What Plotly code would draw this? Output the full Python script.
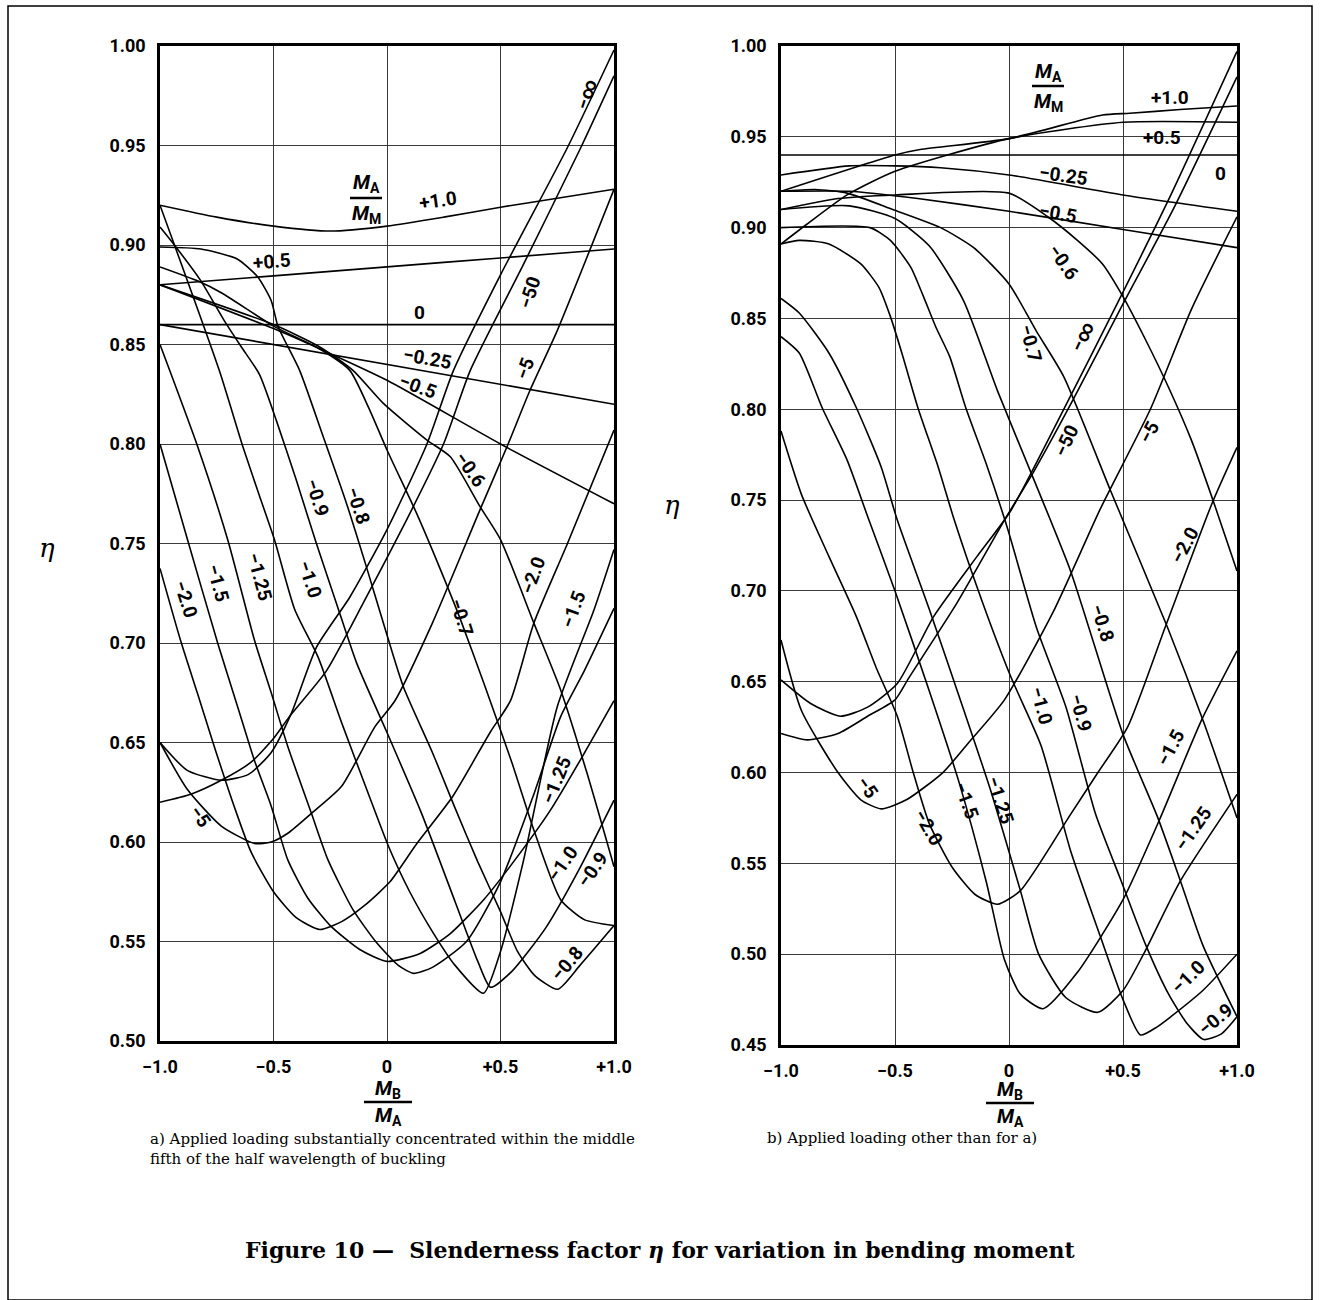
import plotly.graph_objects as go

W, H = 1320, 1300

# ---------------- panel a) : eta against M_B/M_A, one curve per M_A/M_M ----------------
A_P10_X = [-1, -0.75, -0.5, -0.25, 0, 0.25, 0.5, 0.75, 1]
A_P10_Y = [0.920, 0.914, 0.9095, 0.907, 0.9095, 0.914, 0.919, 0.9235, 0.928]
A_P05_X = [-1, -0.5, 0, 0.5, 1]
A_P05_Y = [0.880, 0.8845, 0.889, 0.8935, 0.898]
A_0_X = [-1, 1]
A_0_Y = [0.86, 0.86]
A_M025_X = [-1, 1]
A_M025_Y = [0.86, 0.82]
A_M05_X = [-1, -0.5, -0.3, 0, 0.5, 1]
A_M05_Y = [0.88, 0.858, 0.848, 0.832, 0.80, 0.77]
A_M06_X = [-1, -0.5, -0.3, -0.15, -0.016, 0.176, 0.279, 0.41, 0.5, 0.647, 0.765, 0.88, 1]
A_M06_Y = [0.88, 0.86, 0.849, 0.837, 0.8204, 0.802, 0.7936, 0.7685, 0.752, 0.71, 0.6764, 0.635, 0.5876]
A_M07_X = [-1, -0.835, -0.73, -0.496, -0.3, -0.164, -0.08, 0.0, 0.131, 0.235, 0.323, 0.426, 0.55, 0.65, 0.765, 0.869, 1]
A_M07_Y = [0.889, 0.882, 0.876, 0.859, 0.848, 0.837, 0.818, 0.797, 0.765, 0.737, 0.712, 0.680, 0.64, 0.605, 0.571, 0.561, 0.558]
A_M08_X = [-1, -0.82, -0.66, -0.57, -0.51, -0.48, -0.385, -0.282, -0.178, -0.09, -0.016, 0.072, 0.2, 0.3, 0.4, 0.5, 0.575, 0.65, 0.752, 0.85, 1]
A_M08_Y = [0.899, 0.898, 0.893, 0.884, 0.872, 0.859, 0.837, 0.804, 0.770, 0.738, 0.710, 0.678, 0.645, 0.617, 0.59, 0.565, 0.545, 0.533, 0.526, 0.538, 0.558]
A_M09_X = [-1, -0.93, -0.82, -0.717, -0.643, -0.562, -0.488, -0.4, -0.311, -0.223, -0.134, 0.0, 0.15, 0.3, 0.4, 0.456, 0.55, 0.7, 0.85, 1]
A_M09_Y = [0.909, 0.899, 0.882, 0.862, 0.849, 0.835, 0.812, 0.782, 0.750, 0.720, 0.690, 0.655, 0.615, 0.57, 0.54, 0.527, 0.535, 0.557, 0.587, 0.621]
A_M10_X = [-1, -0.739, -0.636, -0.562, -0.496, -0.407, -0.304, -0.2, -0.083, 0.006, 0.1, 0.2, 0.3, 0.425, 0.5, 0.6, 0.75, 0.913, 1]
A_M10_Y = [0.92, 0.837, 0.799, 0.774, 0.752, 0.717, 0.693, 0.66, 0.6245, 0.598, 0.575, 0.555, 0.538, 0.524, 0.545, 0.59, 0.668, 0.717, 0.747]
A_M125_X = [-1, -0.835, -0.702, -0.584, -0.51, -0.437, -0.333, -0.26, -0.15, -0.05, 0.05, 0.116, 0.2, 0.35, 0.5, 0.65, 0.765, 0.869, 1]
A_M125_Y = [0.85, 0.799, 0.752, 0.7015, 0.675, 0.648, 0.6144, 0.591, 0.566, 0.55, 0.538, 0.534, 0.537, 0.55, 0.58, 0.625, 0.663, 0.686, 0.7174]
A_M15_X = [-1, -0.879, -0.746, -0.658, -0.584, -0.51, -0.437, -0.35, -0.25, -0.12, 0, 0.146, 0.279, 0.426, 0.544, 0.72, 0.869, 1]
A_M15_Y = [0.80, 0.752, 0.70, 0.668, 0.641, 0.618, 0.591, 0.572, 0.558, 0.546, 0.540, 0.544, 0.554, 0.571, 0.588, 0.616, 0.6446, 0.671]
A_M20_X = [-1, -0.91, -0.835, -0.761, -0.673, -0.599, -0.5, -0.4, -0.296, -0.2, -0.1, 0.013, 0.13, 0.29, 0.456, 0.544, 0.647, 0.795, 1]
A_M20_Y = [0.7375, 0.7015, 0.6747, 0.648, 0.6178, 0.595, 0.575, 0.562, 0.556, 0.560, 0.568, 0.58, 0.599, 0.623, 0.6554, 0.671, 0.71, 0.75, 0.807]
A_M5_X = [-1, -0.88, -0.73, -0.584, -0.51, -0.437, -0.333, -0.2, -0.053, 0.035, 0.2, 0.41, 0.53, 0.63, 0.75, 1]
A_M5_Y = [0.650, 0.6265, 0.608, 0.5993, 0.600, 0.6044, 0.6144, 0.628, 0.658, 0.671, 0.71, 0.767, 0.799, 0.827, 0.857, 0.928]
A_M50_X = [-1, -0.864, -0.73, -0.6, -0.5, -0.43, -0.267, -0.105, 0.087, 0.249, 0.367, 0.6, 0.854, 1]
A_M50_Y = [0.620, 0.624, 0.631, 0.640, 0.652, 0.663, 0.686, 0.720, 0.762, 0.800, 0.837, 0.89, 0.949, 0.985]
A_MINF_X = [-1, -0.88, -0.73, -0.61, -0.51, -0.42, -0.31, -0.164, 0.0, 0.176, 0.293, 0.5, 0.795, 1]
A_MINF_Y = [0.650, 0.636, 0.631, 0.634, 0.645, 0.665, 0.698, 0.723, 0.757, 0.800, 0.837, 0.885, 0.949, 0.998]

# ---------------- panel b) ----------------
B_P10_X = [-1, -0.5, -0.39, 0, 0.41, 0.53, 0.75, 1]
B_P10_Y = [0.920, 0.940, 0.943, 0.949, 0.962, 0.963, 0.965, 0.967]
B_P05_X = [-1, -0.885, -0.71, -0.5, 0, 0.5, 1]
B_P05_Y = [0.891, 0.902, 0.918, 0.931, 0.949, 0.958, 0.958]
B_0_X = [-1, 1]
B_0_Y = [0.94, 0.94]
B_M025_X = [-1, -0.7, -0.5, -0.3, 0, 0.5, 1]
B_M025_Y = [0.929, 0.934, 0.934, 0.933, 0.929, 0.918, 0.909]
B_M05_X = [-1, -0.7, -0.4, 0, 0.5, 1]
B_M05_Y = [0.920, 0.920, 0.916, 0.909, 0.899, 0.889]
B_M06_X = [-1, -0.75, -0.5, 0, 0.17, 0.3, 0.41, 0.5, 0.6, 0.7, 0.8, 0.9, 1]
B_M06_Y = [0.910, 0.916, 0.918, 0.919, 0.906, 0.893, 0.880, 0.862, 0.838, 0.812, 0.783, 0.748, 0.711]
B_M07_X = [-1, -0.85, -0.71, -0.51, -0.30, -0.155, 0, 0.12, 0.24, 0.446, 0.695, 0.856, 1]
B_M07_Y = [0.920, 0.921, 0.919, 0.910, 0.900, 0.889, 0.869, 0.843, 0.818, 0.755, 0.680, 0.627, 0.575]
B_M08_X = [-1, -0.7, -0.5, -0.35, -0.2, -0.05, 0.11, 0.27, 0.5, 0.65, 0.75, 0.85, 1]
B_M08_Y = [0.910, 0.912, 0.905, 0.890, 0.860, 0.810, 0.761, 0.711, 0.621, 0.576, 0.541, 0.505, 0.4656]
B_M09_X = [-1, -0.61, -0.52, -0.43, -0.375, -0.32, -0.26, -0.19, -0.1, -0.008, 0.12, 0.25, 0.38, 0.49, 0.6, 0.7, 0.78, 0.855, 0.93, 1]
B_M09_Y = [0.900, 0.900, 0.893, 0.878, 0.862, 0.845, 0.829, 0.801, 0.770, 0.735, 0.680, 0.636, 0.577, 0.541, 0.505, 0.478, 0.462, 0.453, 0.456, 0.4656]
B_M10_X = [-1, -0.92, -0.79, -0.65, -0.57, -0.52, -0.47, -0.40, -0.31, -0.24, -0.12, 0.007, 0.14, 0.27, 0.4, 0.5, 0.577, 0.65, 0.71, 0.85, 1]
B_M10_Y = [0.891, 0.893, 0.891, 0.880, 0.867, 0.851, 0.831, 0.801, 0.768, 0.739, 0.695, 0.653, 0.615, 0.557, 0.51, 0.475, 0.4555, 0.460, 0.4656, 0.48, 0.50]
B_M125_X = [-1, -0.92, -0.79, -0.67, -0.56, -0.49, -0.35, -0.2, -0.08, 0.05, 0.13, 0.25, 0.39, 0.5, 0.59, 0.75, 1]
B_M125_Y = [0.861, 0.853, 0.831, 0.801, 0.768, 0.739, 0.690, 0.635, 0.590, 0.535, 0.500, 0.476, 0.468, 0.480, 0.500, 0.540, 0.588]
B_M15_X = [-1, -0.92, -0.82, -0.71, -0.62, -0.5, -0.35, -0.22, -0.1, -0.02, 0.05, 0.15, 0.3, 0.5, 0.66, 0.845, 1]
B_M15_Y = [0.840, 0.831, 0.801, 0.772, 0.741, 0.700, 0.645, 0.595, 0.540, 0.497, 0.478, 0.470, 0.490, 0.530, 0.574, 0.629, 0.667]
B_M20_X = [-1, -0.91, -0.79, -0.67, -0.58, -0.49, -0.42, -0.35, -0.25, -0.15, -0.05, 0.05, 0.27, 0.39, 0.52, 0.685, 0.89, 1]
B_M20_Y = [0.788, 0.753, 0.719, 0.686, 0.657, 0.631, 0.600, 0.572, 0.548, 0.533, 0.5275, 0.535, 0.577, 0.600, 0.625, 0.680, 0.748, 0.779]
B_M5_X = [-1, -0.91, -0.75, -0.65, -0.56, -0.45, -0.29, -0.18, -0.02, 0.2, 0.4, 0.62, 0.8, 1]
B_M5_Y = [0.673, 0.634, 0.600, 0.585, 0.580, 0.585, 0.600, 0.616, 0.640, 0.690, 0.745, 0.800, 0.855, 0.906]
B_M50_X = [-1, -0.885, -0.75, -0.62, -0.50, -0.44, -0.23, -0.02, 0.11, 0.28, 0.5, 0.72, 1]
B_M50_Y = [0.6215, 0.618, 0.6215, 0.631, 0.640, 0.652, 0.693, 0.739, 0.766, 0.805, 0.858, 0.910, 0.983]
B_MINF_X = [-1, -0.87, -0.74, -0.62, -0.49, -0.33, -0.14, 0.007, 0.24, 0.49, 0.71, 1]
B_MINF_Y = [0.651, 0.638, 0.631, 0.636, 0.649, 0.686, 0.719, 0.744, 0.800, 0.862, 0.918, 0.997]

# tick labels
X_TICKS = [-1, -0.5, 0, 0.5, 1]
X_TICK_TEXT = ["\u22121.0", "\u22120.5", "0", "+0.5", "+1.0"]
A_Y_TICKS = [0.50, 0.55, 0.60, 0.65, 0.70, 0.75, 0.80, 0.85, 0.90, 0.95, 1.00]
B_Y_TICKS = [0.45, 0.50, 0.55, 0.60, 0.65, 0.70, 0.75, 0.80, 0.85, 0.90, 0.95, 1.00]

# curve labels: (text, x, y, angle)
A_LABELS = [
    ("+1.0", 0.225, 0.9226, -8), ("+0.5", -0.507, 0.8915, -5), ("0", 0.145, 0.866, 0),
    ("\u22120.25", 0.18, 0.843, 10), ("\u22120.5", 0.137, 0.829, 20), ("\u22120.6", 0.366, 0.787, 55),
    ("\u22120.7", 0.33, 0.713, 72), ("\u22122.0", 0.643, 0.734, -70), ("\u22121.5", 0.82, 0.717, -70),
    ("\u22121.25", 0.745, 0.631, -68), ("\u22121.0", 0.775, 0.589, -55), ("\u22120.9", 0.907, 0.586, -55),
    ("\u22120.8", 0.793, 0.539, -50), ("\u22125", 0.608, 0.838, -70), ("\u221250", 0.63, 0.876, -72),
    ("\u2212\u221e", 0.881, 0.976, -72), ("\u22120.9", -0.308, 0.773, 72), ("\u22120.8", -0.128, 0.769, 72),
    ("\u22122.0", -0.885, 0.722, 72), ("\u22121.5", -0.744, 0.730, 75), ("\u22121.25", -0.56, 0.733, 75),
    ("\u22121.0", -0.339, 0.732, 72), ("\u22125", -0.824, 0.6126, 55),
]
B_LABELS = [
    ("+1.0", 0.708, 0.9715, 0), ("+0.5", 0.673, 0.9494, 0), ("0", 0.928, 0.930, 0),
    ("\u22120.25", 0.239, 0.9285, 8), ("\u22120.5", 0.217, 0.9076, 10), ("\u22120.6", 0.239, 0.8807, 55),
    ("\u22120.7", 0.094, 0.836, 75), ("\u2212\u221e", 0.322, 0.840, -65), ("\u221250", 0.252, 0.7828, -65),
    ("\u22125", 0.616, 0.7877, -62), ("\u22122.0", 0.77, 0.725, -62), ("\u22120.8", 0.41, 0.682, 72),
    ("\u22121.0", 0.143, 0.637, 75), ("\u22120.9", 0.314, 0.633, 75), ("\u22121.5", 0.708, 0.614, -62),
    ("\u22121.25", 0.81, 0.569, -55), ("\u22121.0", 0.783, 0.4874, -45), ("\u22120.9", 0.906, 0.4638, -40),
    ("\u22125", -0.62, 0.592, 55), ("\u22122.0", -0.353, 0.570, 60), ("\u22121.5", -0.186, 0.5848, 70),
    ("\u22121.25", -0.037, 0.5848, 72),
]

A_CURVES = [
    (A_P10_X, A_P10_Y), (A_P05_X, A_P05_Y), (A_0_X, A_0_Y), (A_M025_X, A_M025_Y),
    (A_M05_X, A_M05_Y), (A_M06_X, A_M06_Y), (A_M07_X, A_M07_Y), (A_M08_X, A_M08_Y),
    (A_M09_X, A_M09_Y), (A_M10_X, A_M10_Y), (A_M125_X, A_M125_Y), (A_M15_X, A_M15_Y),
    (A_M20_X, A_M20_Y), (A_M5_X, A_M5_Y), (A_M50_X, A_M50_Y), (A_MINF_X, A_MINF_Y),
]
B_CURVES = [
    (B_P10_X, B_P10_Y), (B_P05_X, B_P05_Y), (B_0_X, B_0_Y), (B_M025_X, B_M025_Y),
    (B_M05_X, B_M05_Y), (B_M06_X, B_M06_Y), (B_M07_X, B_M07_Y), (B_M08_X, B_M08_Y),
    (B_M09_X, B_M09_Y), (B_M10_X, B_M10_Y), (B_M125_X, B_M125_Y), (B_M15_X, B_M15_Y),
    (B_M20_X, B_M20_Y), (B_M5_X, B_M5_Y), (B_M50_X, B_M50_Y), (B_MINF_X, B_MINF_Y),
]

LABEL_FONT = "Roboto, DejaVu Sans, sans-serif"
SERIF = "DejaVu Serif, Liberation Serif, serif"

fig = go.Figure()
for cx, cy in A_CURVES:
    fig.add_trace(go.Scatter(x=cx, y=cy, mode="lines", xaxis="x", yaxis="y",
                             line=dict(color="black", width=1.6, shape="spline", smoothing=0.6),
                             hoverinfo="skip", showlegend=False))
for cx, cy in B_CURVES:
    fig.add_trace(go.Scatter(x=cx, y=cy, mode="lines", xaxis="x2", yaxis="y2",
                             line=dict(color="black", width=1.6, shape="spline", smoothing=0.6),
                             hoverinfo="skip", showlegend=False))


def px(x):
    return x / W


def py(y):
    return 1 - y / H


axis_common = dict(showline=True, linecolor="black", linewidth=2.6, mirror=True,
                   showgrid=True, gridcolor="#3a3a3a", gridwidth=1, zeroline=False,
                   ticks="", ticklabelstandoff=8, automargin=False,
                   tickfont=dict(family=LABEL_FONT, size=18, color="black", weight="bold"))

fig.update_layout(
    template="none",
    width=W, height=H, margin=dict(l=0, r=0, t=0, b=0, pad=0), autosize=False,
    paper_bgcolor="white", plot_bgcolor="white", showlegend=False,
    xaxis=dict(domain=[px(160), px(614)], range=[-1, 1], anchor="y",
               tickvals=X_TICKS, ticktext=X_TICK_TEXT, **axis_common),
    yaxis=dict(domain=[py(1041), py(46)], range=[0.5, 1.0], anchor="x",
               tickvals=A_Y_TICKS, tickformat=".2f", **axis_common),
    xaxis2=dict(domain=[px(781), px(1237)], range=[-1, 1], anchor="y2",
                tickvals=X_TICKS, ticktext=X_TICK_TEXT, **axis_common),
    yaxis2=dict(domain=[py(1045), py(46)], range=[0.45, 1.0], anchor="x2",
                tickvals=B_Y_TICKS, tickformat=".2f", **axis_common),
)

ann = []
for text, lx, ly, ang in A_LABELS:
    ann.append(dict(x=lx, y=ly, xref="x", yref="y", text=text, showarrow=False, textangle=ang,
                    xanchor="center", yanchor="middle",
                    font=dict(family=LABEL_FONT, size=19, color="black", weight="bold")))
for text, lx, ly, ang in B_LABELS:
    ann.append(dict(x=lx, y=ly, xref="x2", yref="y2", text=text, showarrow=False, textangle=ang,
                    xanchor="center", yanchor="middle",
                    font=dict(family=LABEL_FONT, size=19, color="black", weight="bold")))

frac_font = dict(family=LABEL_FONT, size=20, color="black", weight="bold")
shapes = []


def paper_text(cx, cy, text, font, **kw):
    d = dict(x=px(cx), y=py(cy), xref="paper", yref="paper", showarrow=False,
             xanchor="center", yanchor="middle", text=text, font=font)
    d.update(kw)
    ann.append(d)


def fraction(cx, top_y, bar_y, bot_y, num, den, half):
    paper_text(cx, top_y, "<i>M</i><sub>%s</sub>" % num, frac_font)
    paper_text(cx, bot_y, "<i>M</i><sub>%s</sub>" % den, frac_font)
    shapes.append(dict(type="line", xref="paper", yref="paper", x0=px(cx - half), x1=px(cx + half),
                       y0=py(bar_y), y1=py(bar_y), line=dict(color="black", width=2.5)))


# axis titles M_B / M_A under each panel and M_A / M_M keys inside
fraction(388, 1089, 1102, 1116, "B", "A", 24)
fraction(1010, 1090, 1103, 1117, "B", "A", 24)
fraction(366, 183, 198, 214, "A", "M", 16)
fraction(1048, 72, 86, 102, "A", "M", 16)

for cx, cy in [(47, 548), (672, 505)]:
    paper_text(cx, cy, "<i>\u03b7</i>", dict(family=SERIF, size=26, color="black"))

paper_text(148, 1149, "a) Applied loading substantially concentrated within the middle<br>"
                      "fifth of the half wavelength of buckling",
           dict(family=SERIF, size=15, color="black"), xanchor="left", align="left")
paper_text(765, 1138, "b) Applied loading other than for a)",
           dict(family=SERIF, size=15, color="black"), xanchor="left")
paper_text(660, 1250,
           "<b>Figure 10 \u2014  Slenderness factor <i>\u03b7</i> for variation in bending moment</b>",
           dict(family=SERIF, size=22, color="black"))

# page frame
shapes.append(dict(type="rect", xref="paper", yref="paper", x0=px(8), x1=px(1312), y0=0, y1=py(6),
                   line=dict(color="black", width=1.5), fillcolor="rgba(0,0,0,0)", layer="below"))

fig.update_layout(annotations=ann, shapes=shapes)
fig.write_html("out.html")
